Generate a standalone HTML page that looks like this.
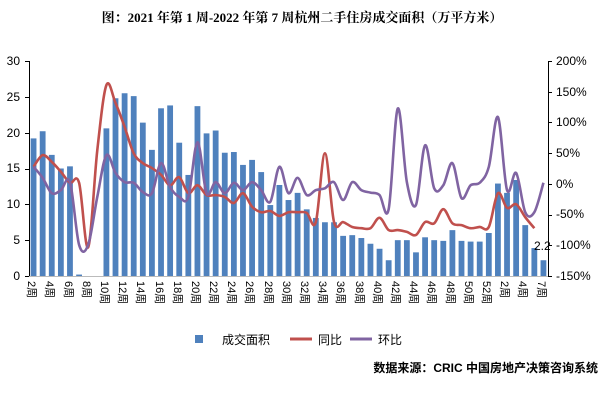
<!DOCTYPE html>
<html><head><meta charset="utf-8"><style>
html,body{margin:0;padding:0;background:#fff;}
svg text{font-family:"Liberation Sans","Noto Sans CJK SC",sans-serif;}
</style></head><body>
<svg id="c" width="605" height="401" xmlns="http://www.w3.org/2000/svg">
<text x="302" y="22" text-anchor="middle" font-size="13" font-weight="bold" style="font-family:'Liberation Serif','Noto Serif CJK SC',serif">图：2021 年第 1 周-2022 年第 7 周杭州二手住房成交面积（万平方米）</text>
<g id="bars"></g>
<line x1="29" y1="276.5" x2="548" y2="276.5" stroke="#bbb"/>
<line x1="29.5" y1="61" x2="29.5" y2="276" stroke="#000"/>
<line x1="548.5" y1="61" x2="548.5" y2="276" stroke="#000"/>
<g id="ticks" stroke="#000"></g>
<g id="lines"></g>
<g font-size="12" text-anchor="end">
<text x="20" y="65">30</text><text x="20" y="101">25</text><text x="20" y="137">20</text><text x="20" y="172">15</text><text x="20" y="208">10</text><text x="20" y="244">5</text><text x="20" y="280">0</text>
</g>
<g font-size="12" text-anchor="start">
<text x="556" y="65">200%</text><text x="556" y="96">150%</text><text x="556" y="126">100%</text><text x="556" y="157">50%</text><text x="556" y="188">0%</text><text x="556" y="218">-50%</text><text x="556" y="249">-100%</text><text x="556" y="280">-150%</text>
</g>
<text x="534" y="250" font-size="12">2.2</text>
<rect x="195" y="335" width="8" height="8" fill="#4f81bd"/>
<text x="222" y="344" font-size="12">成交面积</text>
<line x1="290" y1="339" x2="312" y2="339" stroke="#c0504d" stroke-width="3"/>
<text x="318" y="344" font-size="12">同比</text>
<line x1="350" y1="339" x2="372" y2="339" stroke="#8064a2" stroke-width="3"/>
<text x="378" y="344" font-size="12">环比</text>
<text x="598" y="372" font-size="12" text-anchor="end" font-weight="600">数据来源：CRIC 中国房地产决策咨询系统</text>
<g font-size="11">
<text transform="translate(28,281) rotate(90)">2周</text>
<text transform="translate(46,281) rotate(90)">4周</text>
<text transform="translate(65,281) rotate(90)">6周</text>
<text transform="translate(83,281) rotate(90)">8周</text>
<text transform="translate(101,281) rotate(90)">10周</text>
<text transform="translate(119,281) rotate(90)">12周</text>
<text transform="translate(137,281) rotate(90)">14周</text>
<text transform="translate(156,281) rotate(90)">16周</text>
<text transform="translate(174,281) rotate(90)">18周</text>
<text transform="translate(192,281) rotate(90)">20周</text>
<text transform="translate(210,281) rotate(90)">22周</text>
<text transform="translate(228,281) rotate(90)">24周</text>
<text transform="translate(246,281) rotate(90)">26周</text>
<text transform="translate(265,281) rotate(90)">28周</text>
<text transform="translate(283,281) rotate(90)">30周</text>
<text transform="translate(301,281) rotate(90)">32周</text>
<text transform="translate(319,281) rotate(90)">34周</text>
<text transform="translate(337,281) rotate(90)">36周</text>
<text transform="translate(356,281) rotate(90)">38周</text>
<text transform="translate(374,281) rotate(90)">40周</text>
<text transform="translate(392,281) rotate(90)">42周</text>
<text transform="translate(410,281) rotate(90)">44周</text>
<text transform="translate(428,281) rotate(90)">46周</text>
<text transform="translate(447,281) rotate(90)">48周</text>
<text transform="translate(465,281) rotate(90)">50周</text>
<text transform="translate(483,281) rotate(90)">52周</text>
<text transform="translate(501,281) rotate(90)">2周</text>
<text transform="translate(519,281) rotate(90)">4周</text>
<text transform="translate(538,281) rotate(90)">7周</text>
</g>
</svg>
<script>
(function(){
var ns="http://www.w3.org/2000/svg";
var bars=[19.2,20.2,16.9,15,15.3,0.2,0,0,20.6,24.8,25.5,25.1,21.4,17.6,23.4,23.8,18.6,14.1,23.7,19.9,20.3,17.2,17.3,15.5,16.2,14.5,9.9,12.7,10.6,11.6,9.3,8.1,7.5,7.5,5.6,5.7,5.3,4.5,3.8,2.2,5.0,5.0,3.3,5.4,5.0,4.9,6.4,4.9,4.8,4.8,6.0,12.9,11.6,13.4,7.1,3.9,2.2];
var red=[28,47,36,20,2,2,-103,55,161,132,93,50,34,26,15,-2,11,-15,-2,-18,-18,-21,-31,-15,-37,-46,-44,-52,-46,-46,-47,-62,50,-62,-62,-70,-72,-72,-55,-75,-75,-78,-83,-62,-64,-41,-64,-67,-72,-70,-70,-15,-39,-33,-54,-72];
var pur=[28,10,-15,-10,3,-99,-99,-21,47,18,3,2,-13,-15,34,-5,-21,-21,68,-15,3,-15,2,-10,3,-10,-29,28,-15,10,-18,-10,-7,3,-26,3,-10,-14,-18,-41,123,3,-34,63,-7,-2,34,-23,-2,2,28,109,-10,18,-46,-46,2];
var step=519/57;function cx(i){return 29+step*(i+0.5);}
var g=document.getElementById('bars');
bars.forEach(function(v,i){if(v<=0)return;var r=document.createElementNS(ns,'rect');var h=v*215/30;
r.setAttribute('x',cx(i)-2.9);r.setAttribute('width',5.8);r.setAttribute('y',276-h);r.setAttribute('height',h);r.setAttribute('fill','#4f81bd');g.appendChild(r);});
var t=document.getElementById('ticks');
function ln(a,b,c,d){var l=document.createElementNS(ns,'line');l.setAttribute('x1',a);l.setAttribute('y1',b);l.setAttribute('x2',c);l.setAttribute('y2',d);t.appendChild(l);}
for(var k=0;k<=6;k++){var y=Math.round(61+k*215/6)+0.5;ln(25,y,29,y);}
for(var k=0;k<=7;k++){var y=Math.round(61+k*215/7)+0.5;ln(548,y,552,y);}
function py(p){return 184-p*0.614;}
function path(arr,col){var pts=arr.map(function(p,i){return [cx(i),py(p)];});
var d='M'+pts[0][0]+','+pts[0][1];
for(var i=0;i<pts.length-1;i++){var p0=pts[i-1]||pts[i],p1=pts[i],p2=pts[i+1],p3=pts[i+2]||p2;
var c1=[p1[0]+(p2[0]-p0[0])/6,p1[1]+(p2[1]-p0[1])/6],c2=[p2[0]-(p3[0]-p1[0])/6,p2[1]-(p3[1]-p1[1])/6];
d+=' C'+c1+' '+c2+' '+p2;}
var e=document.createElementNS(ns,'path');e.setAttribute('d',d);e.setAttribute('fill','none');e.setAttribute('stroke',col);e.setAttribute('stroke-width','2.6');document.getElementById('lines').appendChild(e);}
path(red,'#c0504d');path(pur,'#8064a2');
})();
</script>
</body></html>
